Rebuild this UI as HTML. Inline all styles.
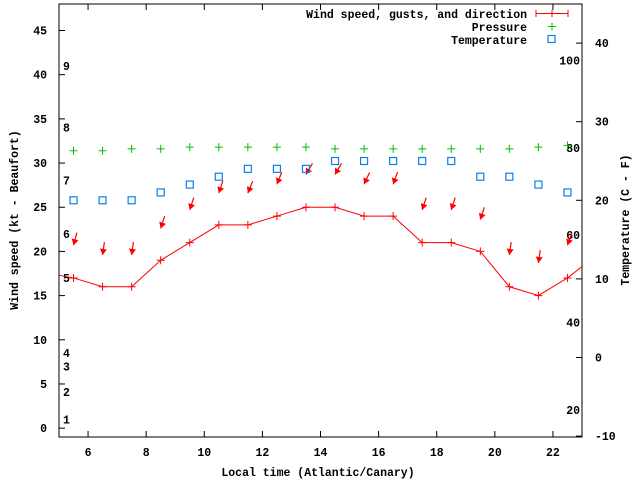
<!DOCTYPE html>
<html><head><meta charset="utf-8"><style>
html,body{margin:0;padding:0;background:#fff;}
svg text{font-family:"Liberation Mono",monospace;font-weight:bold;font-size:11.5px;fill:#000;}
</style></head><body>
<svg id="chart" width="640" height="480" xmlns="http://www.w3.org/2000/svg">
<defs><clipPath id="clip"><rect x="59" y="4" width="523" height="433"/></clipPath></defs>
<rect x="59" y="4" width="523" height="433" fill="none" stroke="#000" stroke-width="1"/>
<g id="axes"></g>
<g id="marks" clip-path="url(#clip)"></g>
<text x="318" y="476" text-anchor="middle">Local time (Atlantic/Canary)</text>
<text transform="translate(18,220) rotate(-90)" text-anchor="middle">Wind speed (kt - Beaufort)</text>
<text transform="translate(629,220) rotate(-90)" text-anchor="middle">Temperature (C - F)</text>
<g>
<text x="527" y="18" text-anchor="end">Wind speed, gusts, and direction</text>
<g stroke="#f00" stroke-width="1">
<line x1="536" y1="13.5" x2="568" y2="13.5"/><line x1="536" y1="10" x2="536" y2="17"/><line x1="568" y1="10" x2="568" y2="17"/>
<line x1="552" y1="10" x2="552" y2="17"/></g>
<text x="527" y="31" text-anchor="end">Pressure</text>
<g stroke="#00c000"><line x1="548" y1="26.5" x2="556" y2="26.5"/><line x1="552" y1="22.5" x2="552" y2="30.5"/></g>
<text x="527" y="44" text-anchor="end">Temperature</text>
<rect x="548" y="35.5" width="7" height="7" fill="none" stroke="#0a7ff0" stroke-width="1.2"/>
</g>
</svg>
<script>
const hours = [5.5,6.5,7.5,8.5,9.5,10.5,11.5,12.5,13.5,14.5,15.5,16.5,17.5,18.5,19.5,20.5,21.5,22.5];
const windHours = [4.5,5.5,6.5,7.5,8.5,9.5,10.5,11.5,12.5,13.5,14.5,15.5,16.5,17.5,18.5,19.5,20.5,21.5,22.5,23.5];
const windSpeed = [17.6,17,16,16,19,21,23,23,24,25,25,24,24,21,21,20,16,15,17,19.6];
const gusts = [20.7,19.6,19.6,22.6,24.7,26.6,26.6,27.6,28.7,28.7,27.6,27.6,24.7,24.7,23.6,19.6,18.7,20.7];
const windDir = [15,8,8,18,18,18,22,22,30,30,25,20,18,18,18,8,8,20];
const pressure = [31.4,31.4,31.6,31.6,31.8,31.8,31.8,31.8,31.8,31.6,31.6,31.6,31.6,31.6,31.6,31.6,31.8,32.0];
const temperature = [20,20,20,21,22,23,24,24,24,25,25,25,25,25,23,23,22,21];
const xTicks = [6,8,10,12,14,16,18,20,22];
const yTicks = [0,5,10,15,20,25,30,35,40,45];
const y2Ticks = [-10,0,10,20,30,40];
const beaufortLabels = ["1","2","3","4","5","6","7","8","9"];
const beaufortKt = [1,4.1,7,8.5,17,22,28,34,41];
const fahrenheitLabels = ["20","40","60","80","100"];
const fahrenheit = [20,40,60,80,100];

const X = h => 59 + (h-5)*(523/18);
const Y = v => 437 - (v+1)*(433/49);
const Y2 = c => 357.5 - c*7.86;
const NS='http://www.w3.org/2000/svg';
const axes=document.getElementById('axes'), marks=document.getElementById('marks');
function mk(tag,attrs,parent){const e=document.createElementNS(NS,tag);for(const k in attrs)e.setAttribute(k,attrs[k]);parent.appendChild(e);return e;}

xTicks.forEach(t=>{
  const x=X(t);
  const a=mk('line',{x1:x,y1:437,x2:x,y2:431,stroke:'#000'},axes);
  
  
  const b=mk('line',{x1:x,y1:4,x2:x,y2:10,stroke:'#000'},axes);
  
  
  const l=mk('text',{x:x,y:456,'text-anchor':'middle'},axes); l.textContent=t;
  
  
});
yTicks.forEach(t=>{
  const y=Y(t);
  const a=mk('line',{x1:59,y1:y,x2:65,y2:y,stroke:'#000'},axes);
  
  
  const l=mk('text',{x:47,y:y+4,'text-anchor':'end'},axes); l.textContent=t;
  
  
});
y2Ticks.forEach(t=>{
  const y=Y2(t);
  const a=mk('line',{x1:582,y1:y,x2:576,y2:y,stroke:'#000'},axes);
  
  
  const l=mk('text',{x:595,y:y+4,'text-anchor':'start'},axes); l.textContent=t;
  
  
});
beaufortLabels.forEach((s,i)=>{
  const l=mk('text',{x:63,y:Y(beaufortKt[i])+4},axes); l.textContent=s;
  
  
});
fahrenheitLabels.forEach((s,i)=>{
  const c=(fahrenheit[i]-32)*5/9;
  const l=mk('text',{x:580,y:Y2(c)+4,'text-anchor':'end'},axes); l.textContent=s;
  
  
});

// wind line
const pts=windHours.map((h,i)=>X(h)+','+Y(windSpeed[i])).join(' ');
const line=mk('polyline',{points:pts,fill:'none',stroke:'#f00','stroke-width':1},marks);


windHours.forEach((h,i)=>{
  const x=X(h),y=Y(windSpeed[i]);
  const p=mk('path',{d:`M${x-4},${y}H${x+4}M${x},${y-4}V${y+4}`,stroke:'#f00','stroke-width':1},marks);
  
  
});
// gust arrows
hours.forEach((h,i)=>{
  const x=X(h),y=Y(gusts[i]);
  const r=windDir[i]*Math.PI/180, L=13;
  const tx=x+Math.sin(r)*L, ty=y-Math.cos(r)*L;
  const g=mk('g',{},marks);
  
  
  mk('line',{x1:tx,y1:ty,x2:x,y2:y,stroke:'#f00','stroke-width':1.2},g);
  const ux=Math.sin(r),uy=-Math.cos(r);
  const bx=x+ux*6,by=y+uy*6,px=-uy*3.5,py=ux*3.5;
  mk('polygon',{points:`${x},${y} ${bx+px},${by+py} ${bx-px},${by-py}`,fill:'#f00'},g);
});
// pressure
hours.forEach((h,i)=>{
  const x=X(h),y=Y(pressure[i]);
  const p=mk('path',{d:`M${x-4},${y}H${x+4}M${x},${y-4}V${y+4}`,stroke:'#00c000','stroke-width':1},marks);
  
  
});
// temperature
hours.forEach((h,i)=>{
  const x=X(h),y=Y2(temperature[i]);
  const s=mk('rect',{x:x-3.5,y:y-3.5,width:7,height:7,fill:'none',stroke:'#0a7ff0','stroke-width':1.2},marks);
  
  
});
</script>
</body></html>
